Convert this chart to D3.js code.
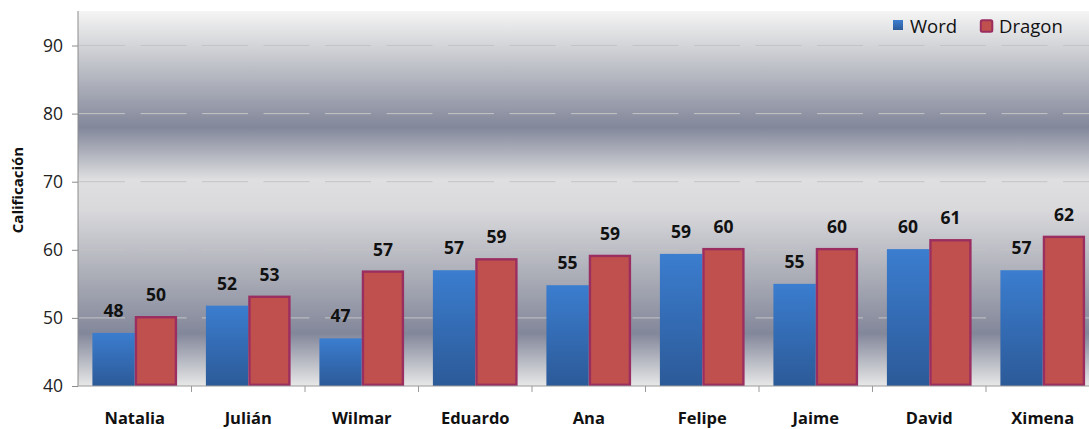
<!DOCTYPE html>
<html>
<head>
<meta charset="utf-8">
<script src="https://cdn.jsdelivr.net/npm/d3@7.9.0/dist/d3.min.js"></script>
<style>
  body { margin: 0; background: #fff; }
  svg { display: block; font-family: "Open Sans", "Noto Sans", sans-serif; }
</style>
</head>
<body>
<svg id="chart" width="1089" height="429"></svg>
<script>
const categories = ['Natalia', 'Julián', 'Wilmar', 'Eduardo', 'Ana', 'Felipe', 'Jaime', 'David', 'Ximena'];
const series = ['Word', 'Dragon'];
const wordValues = [47.8, 51.8, 47.0, 57.0, 54.8, 59.4, 55.0, 60.1, 57.0];
const dragonValues = [50.1, 53.1, 56.8, 58.6, 59.1, 60.1, 60.1, 61.4, 61.9];
const yTicks = [40, 50, 60, 70, 80, 90];

const svg = d3.select('#chart');
const plotLeft = 78, plotTop = 11, plotBottom = 386, step = 113.5;

// scales
const x0 = d3.scaleBand().domain(categories).range([plotLeft, plotLeft + step * categories.length]).padding(0);
const x1 = d3.scaleBand().domain(series).range([0, x0.bandwidth()]).paddingInner(0).paddingOuter(0.34);
const y = d3.scaleLinear().domain([40, 90]).range([plotBottom, plotBottom - 50 * 6.81]);

const defs = svg.append('defs');

// silver background
const bg = defs.append('linearGradient').attr('id', 'bg').attr('x1', 0).attr('y1', 0).attr('x2', 0).attr('y2', 1);
[[0, '#f5f5f5'], [0.085, '#d6d7da'], [0.31, '#82879a'], [0.45, '#dfdfe1'], [0.53, '#d9d9dc'],
 [0.71, '#aaacb6'], [0.86, '#82879a'], [1, '#e8e8e8']]
  .forEach(([o, c]) => bg.append('stop').attr('offset', o).attr('stop-color', c));

const blue = defs.append('linearGradient').attr('id', 'blue').attr('x1', 0).attr('y1', 0).attr('x2', 0).attr('y2', 1);
blue.append('stop').attr('offset', 0).attr('stop-color', '#3b7dcf');
blue.append('stop').attr('offset', 1).attr('stop-color', '#2c5a98');

svg.append('rect')
  .attr('x', plotLeft).attr('y', plotTop)
  .attr('width', 1089 - plotLeft).attr('height', plotBottom - plotTop)
  .attr('fill', 'url(#bg)');

// grid
svg.append('g')
  .selectAll('line')
  .data(yTicks.slice(1))
  .join('line')
  .attr('x1', plotLeft + 1).attr('x2', 1089)
  .attr('y1', d => y(d)).attr('y2', d => y(d))
  .attr('stroke', '#c4c4c4')
  .attr('stroke-width', 1)
  .attr('stroke-dasharray', '46,15.5');

// bars
const rows = categories.map((c, i) => ({ cat: c, Word: wordValues[i], Dragon: dragonValues[i] }));

const groups = svg.append('g')
  .selectAll('g')
  .data(rows)
  .join('g')
  .attr('transform', d => `translate(${x0(d.cat)},0)`);

groups.append('rect')
  .attr('x', x1('Word'))
  .attr('y', d => y(d.Word))
  .attr('width', x1.bandwidth())
  .attr('height', d => y(40) - y(d.Word))
  .attr('fill', 'url(#blue)');

groups.append('rect')
  .attr('x', x1('Dragon') + 1.2)
  .attr('y', d => y(d.Dragon))
  .attr('width', x1.bandwidth() - 2.4)
  .attr('height', d => y(40) - y(d.Dragon) - 1.2)
  .attr('fill', '#c0504d')
  .attr('stroke', '#9b2e60')
  .attr('stroke-width', 2.4);

// value labels
series.forEach(s => {
  groups.append('text')
    .attr('x', x1(s) + x1.bandwidth() / 2)
    .attr('y', d => y(d[s]) - 16)
    .attr('text-anchor', 'middle')
    .attr('font-size', 17.5)
    .attr('font-weight', 'bold')
    .attr('fill', '#111')
    .text(d => d3.format('.0f')(d[s]));
});

// y axis
const yAxis = svg.append('g')
  .attr('transform', `translate(${plotLeft},0)`)
  .call(d3.axisLeft(y).tickValues(yTicks).tickSize(6).tickPadding(9).tickFormat(d3.format('d')));
yAxis.select('.domain').attr('d', `M0,${plotTop}V${plotBottom}`).attr('stroke', '#8c8c8c');
yAxis.selectAll('.tick line').attr('stroke', '#8c8c8c');
yAxis.selectAll('.tick text').attr('font-size', 17.5).attr('fill', '#222')
  .attr('font-family', '"Open Sans", sans-serif');

// x axis
const xAxis = svg.append('g')
  .attr('transform', `translate(0,${plotBottom})`)
  .call(d3.axisBottom(x0).tickSize(0).tickPadding(26));
xAxis.select('.domain').attr('d', `M${plotLeft},0H1089`).attr('stroke', '#9a9a9a');
xAxis.selectAll('.tick text').attr('font-size', 16.5).attr('font-weight', 'bold').attr('fill', '#111')
  .attr('font-family', '"Open Sans", sans-serif');
xAxis.append('g')
  .selectAll('line')
  .data(categories)
  .join('line')
  .attr('x1', d => x0(d) + step).attr('x2', d => x0(d) + step)
  .attr('y1', 0).attr('y2', 6)
  .attr('stroke', '#9a9a9a');

// y title
svg.append('text')
  .attr('transform', 'translate(23,190) rotate(-90)')
  .attr('text-anchor', 'middle')
  .attr('font-size', 15)
  .attr('font-weight', 'bold')
  .attr('fill', '#111')
  .text('Calificación');

// legend
const legend = svg.append('g').attr('transform', 'translate(893,20)');
const legendX = { Word: 0, Dragon: 87 };
series.forEach(s => {
  const g = legend.append('g').attr('transform', `translate(${legendX[s]},0)`);
  if (s === 'Word') {
    g.append('rect').attr('width', 10).attr('height', 10).attr('fill', 'url(#blue)');
  } else {
    g.append('rect').attr('x', 0.8).attr('y', 0.2).attr('width', 11.5).attr('height', 11.5)
      .attr('rx', 1.5).attr('fill', '#c0504d').attr('stroke', '#9b2e60').attr('stroke-width', 2);
  }
  g.append('text')
    .attr('x', s === 'Word' ? 17 : 19)
    .attr('y', 12.5)
    .attr('font-size', 18.5)
    .attr('fill', '#111')
    .text(s);
});
</script>
</body>
</html>
